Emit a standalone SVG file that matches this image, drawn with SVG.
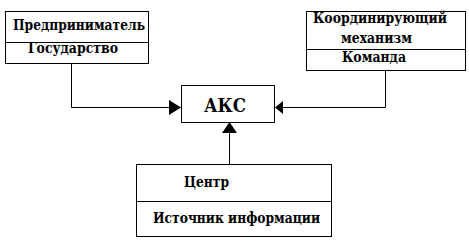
<svg xmlns="http://www.w3.org/2000/svg" width="469" height="244" viewBox="0 0 469 244">
<style>
.box{fill:#fff;stroke:#000;stroke-width:1}
.ln{fill:none;stroke:#000;stroke-width:1}
.ah{fill:#000;stroke:none}
.t{font-weight:700;font-size:14px;fill:#000}
.big{font-size:19px}
</style>
<rect width="469" height="244" fill="#fff"/>
<g id="connectors">
<polyline class="ln" points="71.5,64 71.5,107.5 170,107.5"/>
<polygon class="ah" points="169,100 181,107.5 169,115"/>
<polyline class="ln" points="385.5,71 385.5,107.5 282,107.5"/>
<polygon class="ah" points="283,101 275,107.5 283,114"/>
<line class="ln" x1="229.5" y1="164" x2="229.5" y2="132"/>
<polygon class="ah" points="222,133 229.5,122 237,133"/>
</g>
<g font-family="DejaVu Serif, serif">
<g id="node-predprinimatel">
<rect class="box" x="5.5" y="11.5" width="143" height="52"/>
<line class="ln" x1="5.5" y1="42.5" x2="148.5" y2="42.5"/>
<text class="t" x="13" y="30" textLength="132" lengthAdjust="spacingAndGlyphs">Предприниматель</text>
<text class="t" x="28" y="53" textLength="90" lengthAdjust="spacingAndGlyphs">Государство</text>
</g>
<g id="node-koord">
<rect class="box" x="306.5" y="11.5" width="159" height="59"/>
<line class="ln" x1="306.5" y1="49.5" x2="465.5" y2="49.5"/>
<text class="t" x="313" y="23" textLength="134" lengthAdjust="spacingAndGlyphs">Координирующий</text>
<text class="t" x="341" y="43" textLength="71" lengthAdjust="spacingAndGlyphs">механизм</text>
<text class="t" x="342" y="62" textLength="64" lengthAdjust="spacingAndGlyphs">Команда</text>
</g>
<g id="node-aks">
<rect class="box" x="181.5" y="85.5" width="93" height="37"/>
<text class="t big" x="204" y="112" textLength="42" lengthAdjust="spacingAndGlyphs">АКС</text>
</g>
<g id="node-centr">
<rect class="box" x="136.5" y="164.5" width="195" height="72"/>
<line class="ln" x1="136.5" y1="201.5" x2="331.5" y2="201.5"/>
<text class="t" x="184" y="187" textLength="45" lengthAdjust="spacingAndGlyphs">Центр</text>
<text class="t" x="153" y="223" textLength="167" lengthAdjust="spacingAndGlyphs">Источник информации</text>
</g>
</g>
</svg>
